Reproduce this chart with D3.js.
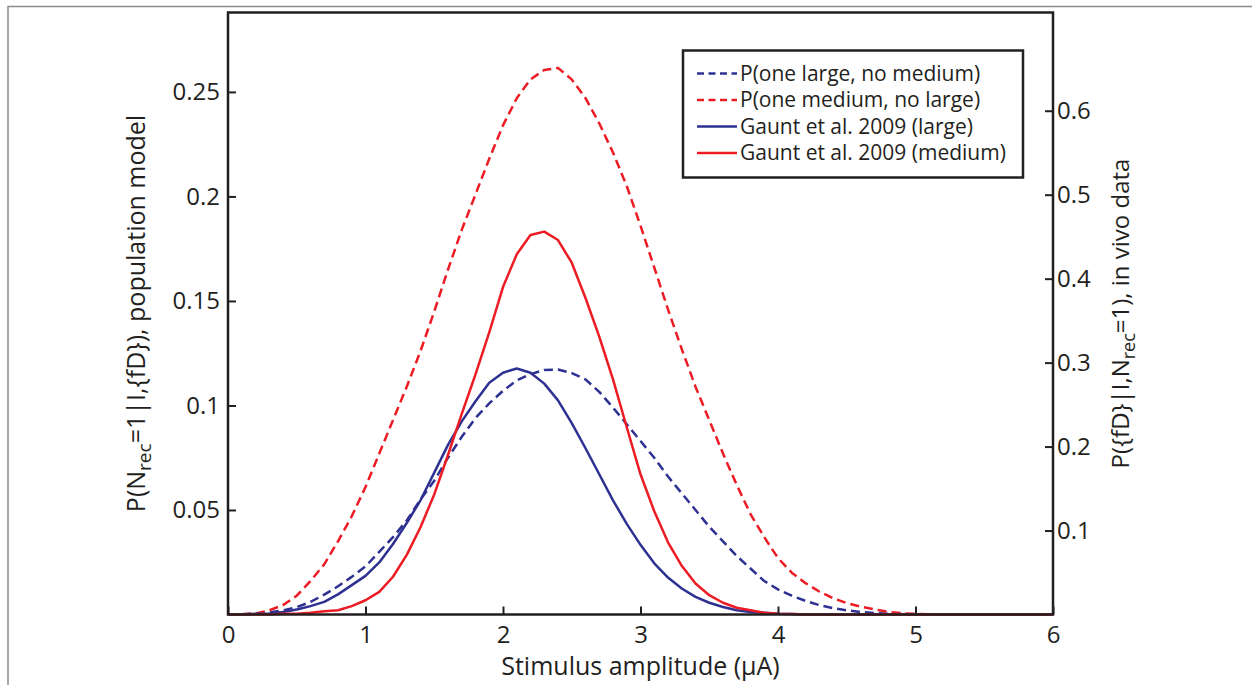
<!DOCTYPE html>
<html>
<head>
<meta charset="utf-8">
<script src="https://cdn.jsdelivr.net/npm/d3@7"></script>
<style>
    body { margin: 0; background: #fff; }
    svg text { font-family: "Open Sans", sans-serif; fill: #231f20; }
</style>
</head>
<body>
<div id="chart"></div>
<script>
// stimulus amplitude samples (uA)
let amplitude = [0, 0.1, 0.2, 0.3, 0.4, 0.5, 0.6, 0.7, 0.8, 0.9,
    1, 1.1, 1.2, 1.3, 1.4, 1.5, 1.6, 1.7, 1.8, 1.9,
    2, 2.1, 2.2, 2.3, 2.4, 2.5, 2.6, 2.7, 2.8, 2.9,
    3, 3.1, 3.2, 3.3, 3.4, 3.5, 3.6, 3.7, 3.8, 3.9,
    4, 4.1, 4.2, 4.3, 4.4, 4.5, 4.6, 4.7, 4.8, 4.9,
    5, 5.1, 5.2, 5.3, 5.4, 5.5, 5.6, 5.7, 5.8, 5.9, 6];

// population model (left axis)
let modelLarge = [0, 0.0001, 0.0004, 0.001, 0.002, 0.0035, 0.006, 0.0095, 0.0135, 0.018,
    0.023, 0.030, 0.037, 0.045, 0.055, 0.064, 0.075, 0.085, 0.094, 0.101,
    0.107, 0.112, 0.115, 0.117, 0.1172, 0.1155, 0.1125, 0.1065, 0.099, 0.091,
    0.083, 0.075, 0.066, 0.058, 0.050, 0.042, 0.035, 0.028, 0.022, 0.016,
    0.012, 0.009, 0.0065, 0.0045, 0.003, 0.002, 0.0012, 0.0007, 0.0004, 0.0002,
    0.0001, 0, 0, 0, 0, 0, 0, 0, 0, 0, 0];
let modelMedium = [0, 0.0001, 0.0004, 0.002, 0.0045, 0.009, 0.016, 0.024, 0.035, 0.047,
    0.061, 0.077, 0.093, 0.109, 0.126, 0.145, 0.165, 0.184, 0.201, 0.218,
    0.234, 0.247, 0.256, 0.2605, 0.2615, 0.256, 0.247, 0.235, 0.221, 0.205,
    0.186, 0.166, 0.146, 0.127, 0.109, 0.093, 0.077, 0.062, 0.048, 0.037,
    0.027, 0.020, 0.015, 0.011, 0.0078, 0.0055, 0.0038, 0.0025, 0.0013, 0.0006,
    0.0003, 0.0001, 0, 0, 0, 0, 0, 0, 0, 0, 0];

// in vivo data, Gaunt et al. 2009 (right axis)
let vivoLarge = [0, 0, 0.001, 0.001, 0.003, 0.006, 0.010, 0.015, 0.024, 0.035,
    0.046, 0.062, 0.084, 0.109, 0.136, 0.169, 0.202, 0.230, 0.254, 0.276,
    0.288, 0.293, 0.288, 0.275, 0.255, 0.228, 0.198, 0.167, 0.136, 0.108,
    0.083, 0.061, 0.044, 0.031, 0.021, 0.014, 0.009, 0.005, 0.003, 0.002,
    0.001, 0.0005, 0, 0, 0, 0, 0, 0, 0, 0,
    0, 0, 0, 0, 0, 0, 0, 0, 0, 0, 0];
let vivoMedium = [0, 0, 0, 0, 0.001, 0.001, 0.002, 0.004, 0.005, 0.010,
    0.017, 0.027, 0.045, 0.071, 0.104, 0.143, 0.190, 0.239, 0.286, 0.336,
    0.390, 0.429, 0.452, 0.456, 0.446, 0.419, 0.377, 0.331, 0.280, 0.223,
    0.167, 0.123, 0.086, 0.058, 0.037, 0.023, 0.014, 0.008, 0.005, 0.002,
    0.001, 0.0005, 0, 0, 0, 0, 0, 0, 0, 0,
    0, 0, 0, 0, 0, 0, 0, 0, 0, 0, 0];

// ticks
let xTicks = [0, 1, 2, 3, 4, 5, 6];
let leftTicks = [0.05, 0.1, 0.15, 0.2, 0.25];
let rightTicks = [0.1, 0.2, 0.3, 0.4, 0.5, 0.6];

let legendNames = ['P(one large, no medium)', 'P(one medium, no large)',
    'Gaunt et al. 2009 (large)', 'Gaunt et al. 2009 (medium)'];

let blue = '#2e3192';
let red = '#ed1c24';
let ink = '#231f20';

let width = 1252, height = 685;
let svg = d3.select('#chart').append('svg')
    .attr('width', width)
    .attr('height', height);

//外框（灰色）
svg.append('path')
    .attr('d', 'M8,685 L8,6.5 L1252,6.5')
    .attr('fill', 'none')
    .attr('stroke', '#8a8a8a')
    .attr('stroke-width', 1.5);

//绘图区范围
let pLeft = 228, pRight = 1053, pTop = 12.5, pBottom = 614.5;

let xScale = d3.scaleLinear().domain([0, 6]).range([pLeft, pRight]);
let yLeft = d3.scaleLinear().domain([0, 0.288]).range([pBottom, pTop]);
let yRight = d3.scaleLinear().domain([0, 0.717]).range([pBottom, pTop]);

//series: 数据 + 比例尺 + 样式
let series = [
    {name: legendNames[0], values: modelLarge, y: yLeft, color: blue, dash: '9,5'},
    {name: legendNames[1], values: modelMedium, y: yLeft, color: red, dash: '9,5'},
    {name: legendNames[2], values: vivoLarge, y: yRight, color: blue, dash: null},
    {name: legendNames[3], values: vivoMedium, y: yRight, color: red, dash: null}
];

let curves = svg.append('g');
series.forEach(function (s) {
    let line = d3.line()
        .x(function (d, i) { return xScale(amplitude[i]); })
        .y(function (d) { return s.y(d); });
    curves.append('path')
        .datum(s.values)
        .attr('d', line)
        .attr('fill', 'none')
        .attr('stroke', s.color)
        .attr('stroke-width', 2.5)
        .attr('stroke-linejoin', 'round')
        .attr('stroke-dasharray', s.dash);
});

//axes, ticks point inward
let styleAxis = function (g) {
    g.select('.domain').remove();
    g.selectAll('.tick line').attr('stroke', ink).attr('stroke-width', 2);
    g.selectAll('.tick text')
        .attr('font-size', 24)
        .attr('font-family', '"Open Sans", sans-serif')
        .attr('fill', ink);
};

svg.append('g')
    .attr('transform', 'translate(0,' + pBottom + ')')
    .call(d3.axisBottom(xScale).tickValues(xTicks).tickSize(-8).tickPadding(11)
        .tickFormat(function (d) { return String(d); }))
    .call(styleAxis);

svg.append('g')
    .attr('transform', 'translate(' + pLeft + ',0)')
    .call(d3.axisLeft(yLeft).tickValues(leftTicks).tickSize(-8).tickPadding(8)
        .tickFormat(function (d) { return String(d); }))
    .call(styleAxis);

svg.append('g')
    .attr('transform', 'translate(' + pRight + ',0)')
    .call(d3.axisRight(yRight).tickValues(rightTicks).tickSize(-8).tickPadding(4)
        .tickFormat(function (d) { return String(d); }))
    .call(styleAxis);

//box
svg.append('rect')
    .attr('x', pLeft)
    .attr('y', pTop)
    .attr('width', pRight - pLeft)
    .attr('height', pBottom - pTop)
    .attr('fill', 'none')
    .attr('stroke', ink)
    .attr('stroke-width', 2.5);

//axis titles
svg.append('text')
    .attr('x', (pLeft + pRight) / 2)
    .attr('y', 675)
    .attr('text-anchor', 'middle')
    .attr('font-size', 25)
    .text('Stimulus amplitude (\u03bcA)');

let yTitle = function (x, size, parts) {
    let t = svg.append('text')
        .attr('transform', 'translate(' + x + ',' + ((pTop + pBottom) / 2) + ') rotate(-90)')
        .attr('text-anchor', 'middle')
        .attr('font-size', size);
    parts.forEach(function (p) {
        let ts = t.append('tspan').text(p.text);
        if (p.sub) {
            ts.attr('font-size', size - 6).attr('dy', 6);
        } else if (p.after) {
            ts.attr('dy', -6);
        }
    });
};
yTitle(145, 25, [{text: 'P(N'}, {text: 'rec', sub: true}, {text: '=1|I,{fD}), population model', after: true}]);
yTitle(1129, 24, [{text: 'P({fD}|I,N'}, {text: 'rec', sub: true}, {text: '=1), in vivo data', after: true}]);

//legend
let lg = svg.append('g');
lg.append('rect')
    .attr('x', 683)
    .attr('y', 50.5)
    .attr('width', 340)
    .attr('height', 127)
    .attr('fill', '#fff')
    .attr('stroke', ink)
    .attr('stroke-width', 2.5);

let items = lg.selectAll('g.item')
    .data(series)
    .enter()
    .append('g')
    .attr('class', 'item')
    .attr('transform', function (d, i) { return 'translate(0,' + (73.5 + i * 26.5) + ')'; });
items.append('line')
    .attr('x1', 697)
    .attr('x2', 737)
    .attr('stroke', function (d) { return d.color; })
    .attr('stroke-width', 2.5)
    .attr('stroke-dasharray', function (d) { return d.dash ? '7,4.5' : null; });
items.append('text')
    .attr('x', 740)
    .attr('y', 7)
    .attr('font-size', 21)
    .text(function (d) { return d.name; });
</script>
</body>
</html>
